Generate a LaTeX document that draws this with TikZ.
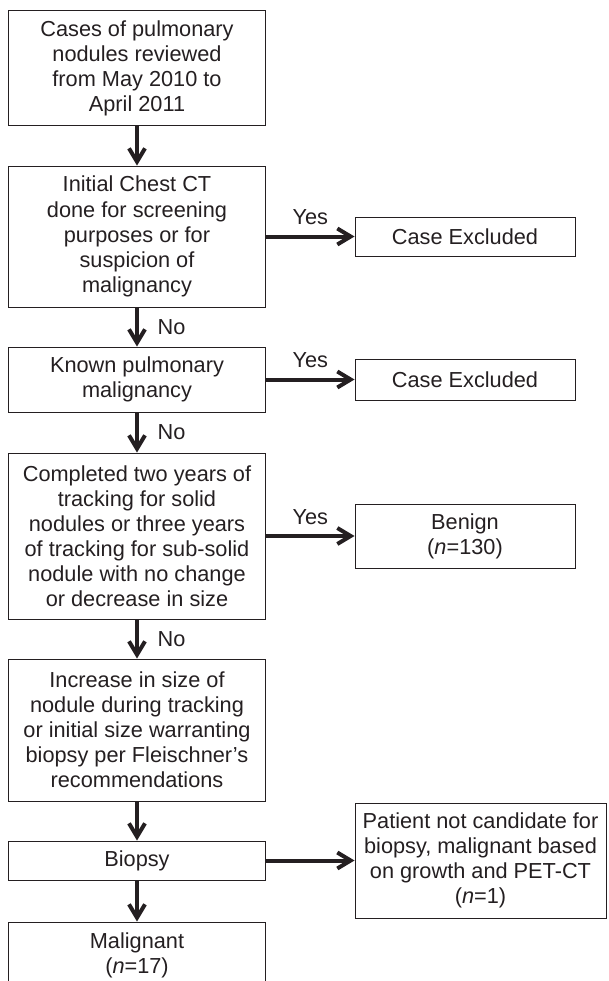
\documentclass[tikz,border=0pt]{standalone}
\usepackage{fontspec}
\setmainfont{Liberation Sans}
\usetikzlibrary{arrows.meta,positioning}
\definecolor{ink}{rgb}{0.14,0.12,0.13}

\begin{document}
\begin{tikzpicture}[x=0.75pt,y=-0.75pt,
  box/.style={draw=ink,line width=0.7pt,inner sep=0pt,align=center,text=ink,
    font=\fontsize{16.3}{18.8}\selectfont},
  mainbox/.style={box,minimum width=192.8pt},
  sidebox/.style={box,minimum width=165pt},
  arr/.style={draw=ink,line width=3pt,-{Straight Barb[length=10pt,width=12pt]}},
  lbl/.style={text=ink,font=\fontsize{16.3}{18.8}\selectfont,inner sep=0pt},
  nolbl/.style={lbl,right,xshift=14pt},
  yeslbl/.style={lbl,above,yshift=7pt}]

\clip (0,0) rectangle (608,981);

% main column
\node[mainbox,minimum height=86.25pt] (cases) at (137,68)
  {Cases of pulmonary\\nodules reviewed\\from May 2010 to\\April 2011};
\node[mainbox,minimum height=105.75pt] (ct) at (137,236.5)
  {Initial Chest CT\\done for screening\\purposes or for\\suspicion of\\malignancy};
\node[mainbox,minimum height=48.75pt] (known) at (137,379.5)
  {Known pulmonary\\malignancy};
\node[mainbox,minimum height=124.5pt] (track) at (137,536)
  {Completed two years of\\tracking for solid\\nodules or three years\\of tracking for sub-solid\\nodule with no change\\or decrease in size};
\node[mainbox,minimum height=106.5pt] (growth) at (137,730)
  {Increase in size of\\nodule during tracking\\or initial size warranting\\biopsy per Fleischner’s\\recommendations};
\node[mainbox,minimum height=29.25pt] (biopsy) at (137,860.5) {Biopsy};
\node[mainbox,minimum height=49.5pt] (malig) at (137,955)
  {Malignant\\(\textit{n}=17)};

% side boxes
\node[sidebox,minimum height=29.25pt] (excl1) at (465,236.5) {Case Excluded};
\node[sidebox,minimum height=30.75pt] (excl2) at (465,379.5) {Case Excluded};
\node[sidebox,minimum height=48pt] (benign) at (465,536)
  {Benign\\(\textit{n}=130)};
\node[box,minimum width=188.25pt,minimum height=86.25pt] (nocand) at (480.5,860.5)
  {Patient not candidate for\\biopsy, malignant based\\on growth and PET-CT\\(\textit{n}=1)};

\path[arr]
    (cases)  edge (ct)
    (ct)     edge node[nolbl] {No} (known)
             edge node[yeslbl] {Yes} (excl1)
    (known)  edge node[nolbl] {No} (track)
             edge node[yeslbl] {Yes} (excl2)
    (track)  edge node[nolbl] {No} (growth)
             edge node[yeslbl] {Yes} (benign)
    (growth) edge (biopsy)
    (biopsy) edge (malig)
             edge (nocand);
\end{tikzpicture}
\end{document}
